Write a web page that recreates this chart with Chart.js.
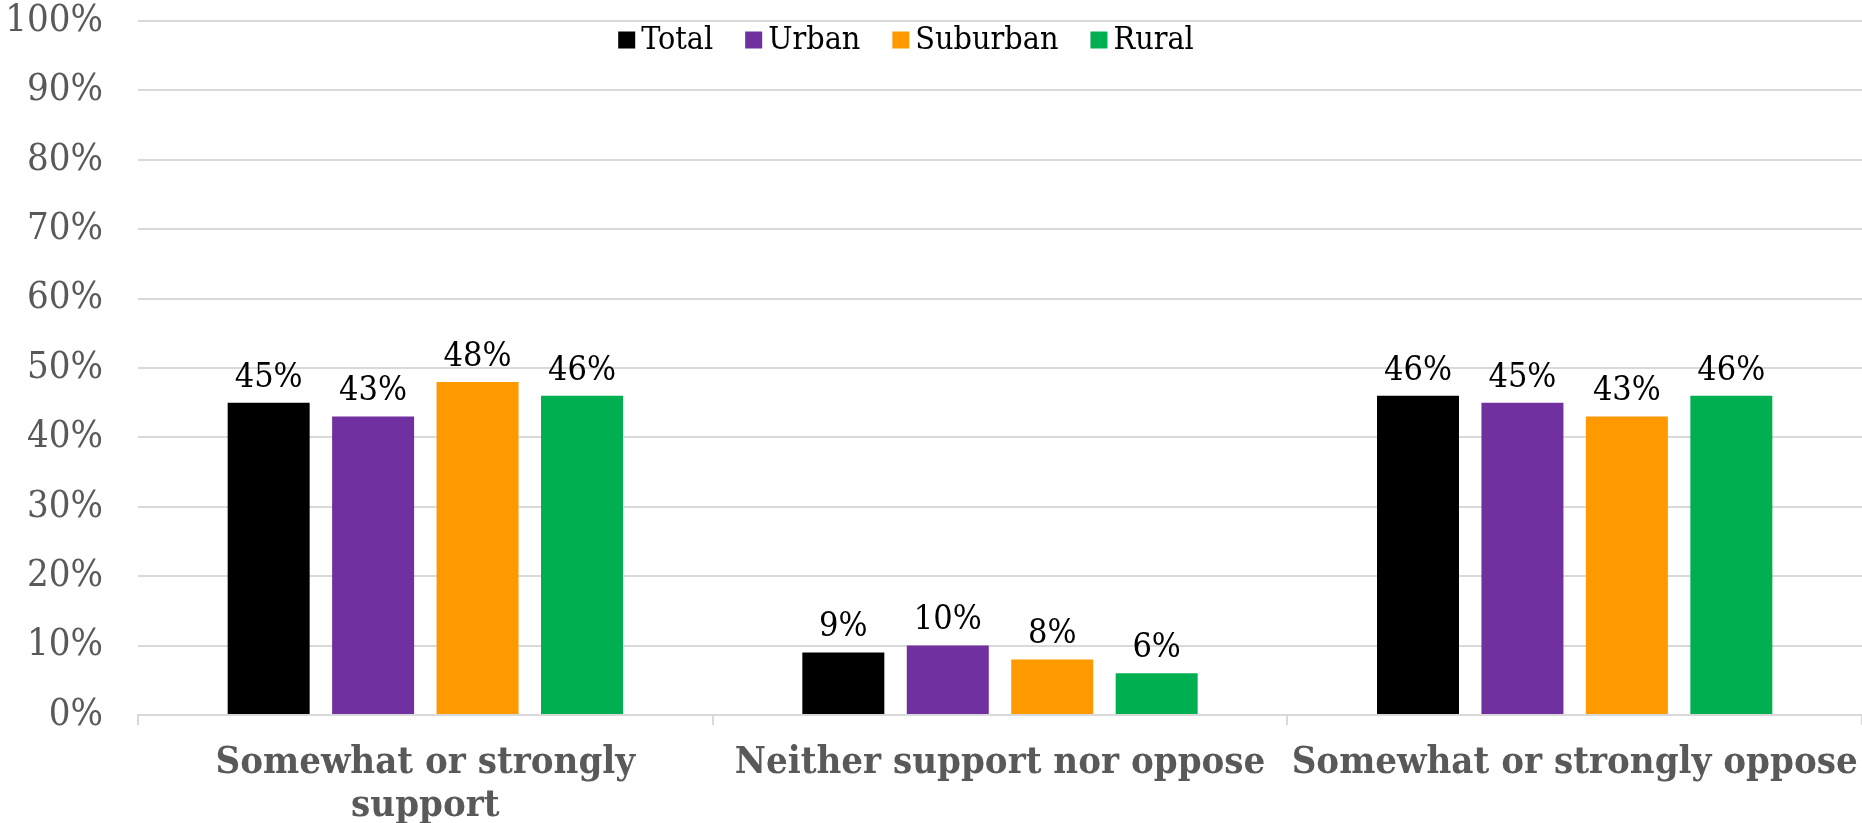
<!DOCTYPE html>
<html>
<head>
<meta charset="utf-8">
<title>Support by area</title>
<script src="https://cdn.jsdelivr.net/npm/chart.js@4.4.1/dist/chart.umd.min.js"></script>
<style>
  html, body { margin: 0; padding: 0; background: #ffffff; }
  #wrap { width: 1862px; height: 823px; position: relative; }
</style>
</head>
<body>
<div id="wrap"><canvas id="chart"></canvas></div>
<script>
'use strict'

// **** DATA ****
let categories = [['Somewhat or strongly', 'support'], 'Neither support nor oppose', 'Somewhat or strongly oppose'];
let seriesNames = ['Total', 'Urban', 'Suburban', 'Rural'];
let totalValues = [45, 9, 46];
let urbanValues = [43, 10, 45];
let suburbanValues = [48, 8, 43];
let ruralValues = [46, 6, 46];
let yTicks = [0, 10, 20, 30, 40, 50, 60, 70, 80, 90, 100];

// **** STYLE ****
let seriesColors = ['#000000', '#7030A0', '#FF9900', '#00B050'];
let serif = '"DejaVu Serif Condensed", "DejaVu Serif", serif';
let gridColor = '#d9d9d9';
let textGrey = '#595959';

// **** PLUGINS ****

// value labels above every bar
let valueLabels = {
  id: 'valueLabels',
  afterDatasetsDraw(chart) {
    let ctx = chart.ctx;
    ctx.save();
    ctx.font = '34px ' + serif;
    ctx.fillStyle = '#000000';
    ctx.textAlign = 'center';
    ctx.textBaseline = 'bottom';
    chart.data.datasets.forEach((ds, i) => {
      let meta = chart.getDatasetMeta(i);
      meta.data.forEach((bar, j) => {
        ctx.fillText(ds.data[j] + '%', bar.x, bar.y - 8);
      });
    });
    ctx.restore();
  }
};

// legend drawn inside the plot, under the 100% line
let innerLegend = {
  id: 'innerLegend',
  afterDraw(chart) {
    let ctx = chart.ctx;
    let box = 17;
    let textGap = 6;
    let itemGap = 32;
    let centerX = 906;
    let y = 40;
    ctx.save();
    ctx.font = '32px ' + serif;
    ctx.textBaseline = 'middle';
    let widths = chart.data.datasets.map(ds => ctx.measureText(ds.label).width);
    let total = widths.reduce((a, w) => a + box + textGap + w, 0) + itemGap * (widths.length - 1);
    let x = centerX - total / 2;
    chart.data.datasets.forEach((ds, i) => {
      ctx.fillStyle = ds.backgroundColor;
      ctx.fillRect(x, y - box / 2, box, box);
      ctx.fillStyle = '#000000';
      ctx.fillText(ds.label, x + box + textGap, y + 1);
      x += box + textGap + widths[i] + itemGap;
    });
    ctx.restore();
  }
};

// **** CHART ****
let allValues = [totalValues, urbanValues, suburbanValues, ruralValues];
let datasets = seriesNames.map((name, i) => ({
  label: name,
  data: allValues[i],
  backgroundColor: seriesColors[i],
  borderWidth: 0,
  categoryPercentage: 0.727,
  barPercentage: 0.785
}));

const config = {
  type: 'bar',
  data: { labels: categories, datasets: datasets },
  options: {
    responsive: true,
    maintainAspectRatio: false,
    animation: false,
    layout: { padding: { top: 21, right: 0, left: 0, bottom: 0 } },
    plugins: {
      legend: { display: false },
      tooltip: { enabled: false }
    },
    scales: {
      x: {
        grid: {
          drawOnChartArea: false,
          drawTicks: true,
          tickLength: 10,
          color: gridColor,
          lineWidth: 2
        },
        border: { color: gridColor, width: 2 },
        ticks: {
          color: textGrey,
          padding: 17,
          maxRotation: 0,
          autoSkip: false,
          font: { family: serif, size: 38, weight: 'bold', lineHeight: 1.13 }
        },
        afterFit(scale) {
          scale.height = 108;
          scale.paddingLeft = 0;
          scale.paddingRight = 0;
        }
      },
      y: {
        min: 0,
        max: 100,
        afterBuildTicks(scale) { scale.ticks = yTicks.map(v => ({ value: v })); },
        grid: { color: gridColor, lineWidth: 2, drawTicks: false },
        border: { display: false },
        ticks: {
          color: textGrey,
          padding: 35,
          font: { family: serif, size: 38 },
          callback: v => v + '%'
        },
        afterFit(scale) {
          scale.width = 138;
          scale.paddingTop = 0;
          scale.paddingBottom = 0;
        }
      }
    }
  },
  plugins: [valueLabels, innerLegend]
};

const ctx = document.getElementById('chart');
const myChart = new Chart(ctx, config);
</script>
</body>
</html>
